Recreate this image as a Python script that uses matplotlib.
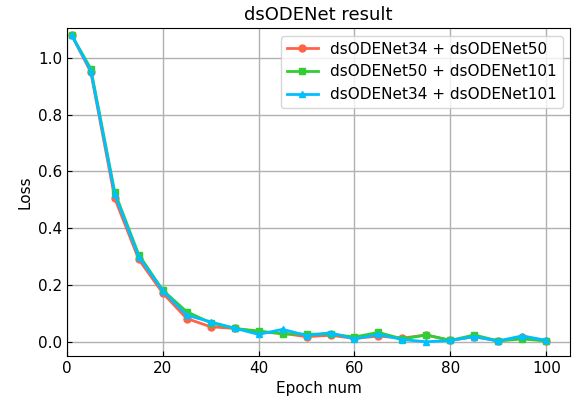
import matplotlib
matplotlib.use("Agg")
import matplotlib.pyplot as plt

epochs = [1, 5, 10, 15, 20, 25, 30, 35, 40, 45, 50, 55, 60, 65, 70, 75, 80, 85, 90, 95, 100]
loss_34_50 = [1.08, 0.95, 0.505, 0.29, 0.172, 0.082, 0.053, 0.047, 0.035, 0.03, 0.018, 0.023, 0.012, 0.02, 0.013, 0.024, 0.005, 0.018, 0.003, 0.017, 0.003]
loss_50_101 = [1.08, 0.962, 0.527, 0.307, 0.182, 0.106, 0.067, 0.047, 0.038, 0.028, 0.027, 0.027, 0.017, 0.033, 0.01, 0.024, 0.005, 0.024, 0.003, 0.01, 0.003]
loss_34_101 = [1.08, 0.955, 0.52, 0.3, 0.18, 0.094, 0.07, 0.048, 0.026, 0.044, 0.022, 0.032, 0.01, 0.026, 0.008, 0.0, 0.005, 0.018, 0.003, 0.021, 0.005]
labels = ["dsODENet34 + dsODENet50", "dsODENet50 + dsODENet101", "dsODENet34 + dsODENet101"]

fig = plt.figure(figsize=(5.76, 4.0), dpi=100)
ax = fig.add_axes([0.116, 0.11, 0.874, 0.82])

ax.plot(epochs, loss_34_50, color="tomato", marker="o", markersize=5, linewidth=2, label=labels[0])
ax.plot(epochs, loss_50_101, color="limegreen", marker="s", markersize=5, linewidth=2, label=labels[1])
ax.plot(epochs, loss_34_101, color="deepskyblue", marker="^", markersize=5, linewidth=2, label=labels[2])

ax.set_xlim(0, 105)
ax.set_ylim(-0.05, 1.105)
ax.set_xticks([0, 20, 40, 60, 80, 100])
ax.set_yticks([0.0, 0.2, 0.4, 0.6, 0.8, 1.0])
ax.tick_params(direction="in", labelsize=11)
ax.grid(True, color="#b0b0b0", linewidth=1)
ax.set_axisbelow(True)
ax.set_title("dsODENet result", fontsize=13)
ax.set_xlabel("Epoch num", fontsize=11)
ax.set_ylabel("Loss", fontsize=11)
ax.legend(loc="upper right", fontsize=11)

fig.savefig("out.png", dpi=100)
